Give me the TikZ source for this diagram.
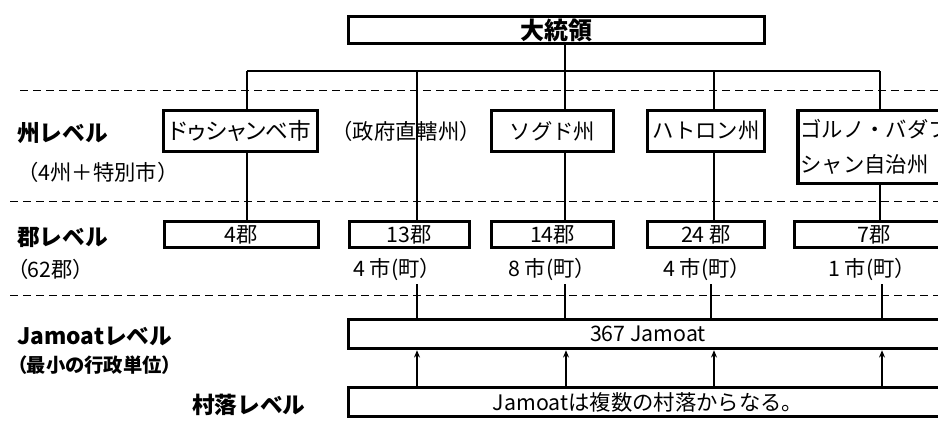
\documentclass[tikz,border=0pt]{standalone}
\usepackage{fontspec}
\setmainfont{Noto Sans CJK JP}
\newfontfamily\pfont{Noto Sans CJK JP}[RawFeature=+palt]
\usetikzlibrary{arrows.meta}
\begin{document}
\begin{tikzpicture}[x=0.75pt,y=-0.75pt,
  font=\fontsize{16}{19}\selectfont,
  box/.style={draw, line width=2.6pt, inner sep=0pt},
  conn/.style={line width=0.8pt},
  sepline/.style={line width=0.75pt, dash pattern=on 6pt off 3.75pt},
  lbl/.style={font=\fontsize{17}{20}\selectfont\bfseries, anchor=west, inner sep=0pt},
  note/.style={anchor=west, inner sep=0pt},
  up/.style={conn, -{Stealth[length=5.5pt,width=4.5pt]}}]
\useasboundingbox (0,0) rectangle (938,430);
\clip (0,0) rectangle (938,430);
% separators
\coordinate (s1a) at (20,90);  \coordinate (s1b) at (940,90);
\coordinate (s2a) at (10,201); \coordinate (s2b) at (940,201);
\coordinate (s3a) at (10,295); \coordinate (s3b) at (940,295);
\draw[sepline] (s1a) -- (s1b);
\draw[sepline] (s2a) -- (s2b);
\draw[sepline] (s3a) -- (s3b);
% top
\node[box, minimum width=312pt, minimum height=20.25pt, font=\fontsize{18}{20}\selectfont\bfseries] (pres) at (556.5,30) {大統領};
% province level
\node[box, minimum width=115.5pt, minimum height=30.75pt, font=\fontsize{17}{20}\selectfont\pfont] (dush) at (240.5,131) {ドゥシャンベ市};
\node[inner sep=0pt] (cap) at (406,131) {（政府直轄州）};
\node[box, minimum width=91.5pt, minimum height=30.75pt] (sogd) at (552.5,131) {ソグド州};
\node[box, minimum width=87.75pt, minimum height=30.75pt] (khat) at (706,131) {ハトロン州};
\node[box, minimum height=54.75pt, text width=115.5pt, inner xsep=2pt, align=left, font=\fontsize{16}{26}\selectfont] (gbao) at (877.5,147) {ゴルノ・バダフ\\シャン自治州};
% district level
\node[box, minimum width=115.5pt, minimum height=19.5pt] (d1) at (241.5,234.5) {4郡};
\node[box, minimum width=90pt, minimum height=19.5pt] (d2) at (409.5,234.5) {13郡};
\node[box, minimum width=91.5pt, minimum height=19.5pt] (d3) at (552.5,234.5) {14郡};
\node[box, minimum width=87.75pt, minimum height=19.5pt] (d4) at (706,234.5) {24 郡};
\node[box, minimum width=119.25pt, minimum height=19.5pt] (d5) at (874,234.5) {7郡};
\node[inner sep=0pt] (t2) at (397,269) {4 市(町）};
\node[inner sep=0pt] (t3) at (552,269) {8 市(町）};
\node[inner sep=0pt] (t4) at (707,269) {4 市(町）};
\node[inner sep=0pt] (t5) at (872,269) {1 市(町）};
% jamoat & village
\node[box, minimum width=449.25pt, minimum height=21.75pt] (jam) at (648,334) {367 Jamoat};
\node[box, minimum width=449.25pt, minimum height=21.75pt] (vil) at (648,402) {Jamoatは複数の村落からなる。};
% left labels
\node[lbl] (l1) at (17,133) {州レベル};
\node[note] (l1b) at (17,172) {（4州＋特別市）};
\node[lbl] (l2) at (17,237) {郡レベル};
\node[note, font=\fontsize{16}{19}\selectfont\pfont] (l2b) at (17,269) {（62郡）};
\node[lbl] (l3) at (17,336) {Jamoatレベル};
\node[lbl, font=\fontsize{14.5}{17}\selectfont\pfont\bfseries] (l3b) at (17,365) {（最小の行政単位）};
\node[lbl] (l4) at (192,405) {村落レベル};
% tree
\coordinate (k1) at (247,71);
\coordinate (k2) at (417,71);
\coordinate (k3) at (565,71);
\coordinate (k4) at (714,71);
\coordinate (k5) at (880,71);
\draw[conn] (pres.south -| k3) -- (k3);
\draw[conn] (k1) -- (k5);
\draw[conn] (k1) -- (k1 |- dush.north);
\draw[conn] (dush.south -| k1) -- (k1 |- d1.north);
\draw[conn] (k2) -- (k2 |- d2.north);
\draw[conn] (k3) -- (k3 |- sogd.north);
\draw[conn] (sogd.south -| k3) -- (k3 |- d3.north);
\draw[conn] (k4) -- (k4 |- khat.north);
\draw[conn] (khat.south -| k4) -- (k4 |- d4.north);
\draw[conn] (k5) -- (k5 |- gbao.north);
\draw[conn] (gbao.south -| k5) -- (k5 |- d5.north);
% to jamoat
\coordinate (j2) at (417,284);
\coordinate (j3) at (565,284);
\coordinate (j4) at (711,284);
\coordinate (j5) at (882,284);
\draw[conn] (j2) -- (j2 |- jam.north);
\draw[conn] (j3) -- (j3 |- jam.north);
\draw[conn] (j4) -- (j4 |- jam.north);
\draw[conn] (j5) -- (j5 |- jam.north);
% arrows village -> jamoat
\coordinate (a2) at (417,0);
\coordinate (a3) at (566,0);
\coordinate (a4) at (714,0);
\coordinate (a5) at (882,0);
\draw[up] (vil.north -| a2) -- (jam.south -| a2);
\draw[up] (vil.north -| a3) -- (jam.south -| a3);
\draw[up] (vil.north -| a4) -- (jam.south -| a4);
\draw[up] (vil.north -| a5) -- (jam.south -| a5);
\end{tikzpicture}
\end{document}
